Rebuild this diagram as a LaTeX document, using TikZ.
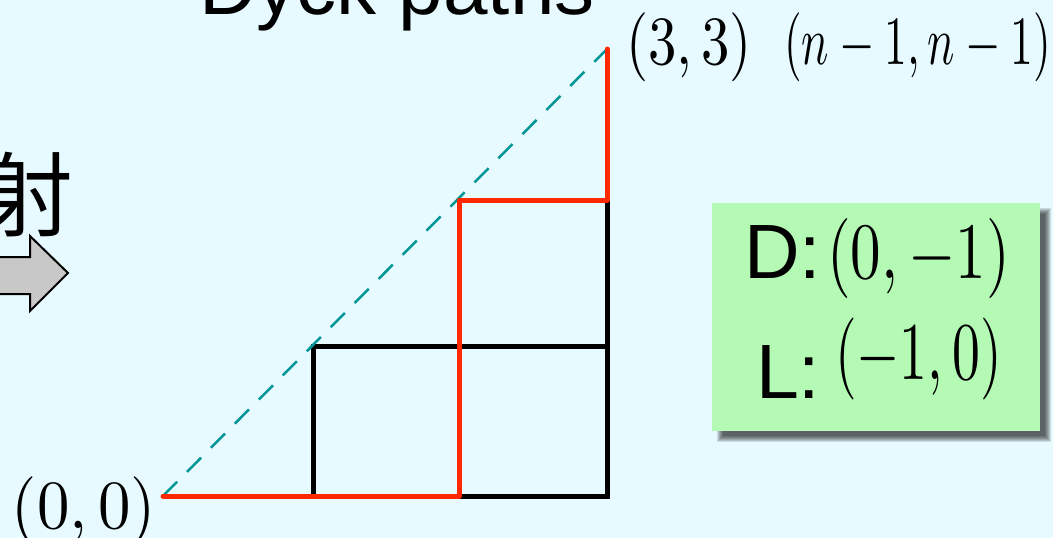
\documentclass[tikz,border=0pt]{standalone}
\usepackage{fontspec}
\usepackage{graphicx}
\newfontfamily\sansf{Liberation Sans}
\newfontfamily\cjkf{Noto Sans CJK SC}
\definecolor{bg}{RGB}{230,250,255}
\definecolor{boxgreen}{RGB}{180,250,180}
\definecolor{pathred}{RGB}{255,40,0}
\definecolor{diag}{RGB}{0,150,150}
\definecolor{arrowgray}{RGB}{200,200,200}
\begin{document}
\begin{tikzpicture}[x=1pt,y=-1pt,
  gridline/.style={line width=5pt, black},
  redpath/.style={line width=5pt, pathred, line cap=round, line join=round},
  diagline/.style={line width=2.5pt, diag, dash pattern=on 20pt off 14pt},
  lab/.style={inner sep=0pt, outer sep=0pt},
  sanslab/.style={lab, font=\sansf\fontsize{77}{90}\selectfont},
  greenbox/.style={fill=boxgreen, draw=none, minimum width=328pt, minimum height=228pt, inner sep=0pt},
]
\useasboundingbox (0,0) rectangle (1053,538);
\clip (0,0) rectangle (1053,538);
\fill[bg] (0,0) rectangle (1053,538);

% title and left text
\node[lab, anchor=base west, font=\sansf\fontsize{80}{90}\selectfont] (title) at (199,14) {Dyck paths};
\node[lab, anchor=base east, font=\cjkf\fontsize{92}{100}\selectfont] (kanji) at (73,229) {射};

% block arrow
\draw[line width=2pt, fill=arrowgray, line join=miter] (-10,257) -- (30,257) -- (30,236) -- (68,273) -- (30,311) -- (30,294) -- (-10,294) -- cycle;

% grid points
\coordinate (p00) at (163,496);
\coordinate (p10) at (313,496);
\coordinate (p20) at (459,496);
\coordinate (p30) at (607,496);
\coordinate (p11) at (313,346);
\coordinate (p31) at (607,346);
\coordinate (p22) at (459,200);
\coordinate (p32) at (607,200);
\coordinate (p33) at (607,49);

\draw[gridline] (p10) -- (p30) -- (p32);
\draw[gridline] (p10) -- (p11) -- (p31);
\draw[diagline] (p00) -- (p33);
\draw[redpath] (p00) -- (p20) -- (p22) -- (p32) -- (p33);

% labels
\node[lab, anchor=south west] (l00) at (12,546) {\resizebox*{144pt}{69pt}{$(0,0)$}};
\node[lab, anchor=south west] (l33) at (626,82) {\resizebox*{126pt}{69pt}{$(3,3)$}};
\node[lab, anchor=south west] (lnn) at (784,82) {\resizebox*{267pt}{69pt}{$(n-1,n-1)$}};

% shadow of the box
\foreach \r in {-3,-2,-1,0,1,2,3}
  \fill[black, opacity=0.12] (720-\r,211-\r) rectangle (1048+\r,439+\r);
\node[greenbox] (box) at (876,317) {};

\node[sanslab, anchor=base west] (dlab) at (744,278) {D:};
\node[lab, anchor=south west] (dmath) at (827,298) {\resizebox*{183pt}{80pt}{$(0,-1)$}};
\node[sanslab, anchor=base west] (llab) at (756,398) {L:};
\node[lab, anchor=south west] (lmath) at (835,400) {\resizebox*{167pt}{82pt}{$(-1,0)$}};
\end{tikzpicture}
\end{document}
